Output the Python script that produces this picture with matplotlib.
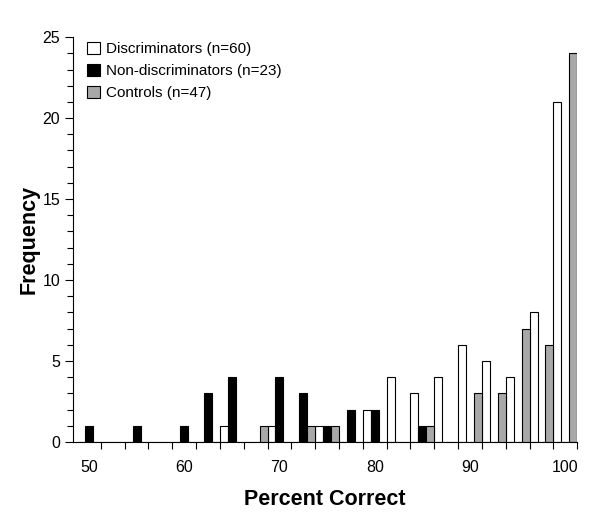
import numpy as np
import matplotlib.pyplot as plt
from matplotlib.ticker import FixedLocator, MultipleLocator

plt.rcParams['font.family'] = ['Liberation Sans', 'DejaVu Sans']

# percent-correct bins (2.5% wide)
bins = np.arange(50, 100.1, 2.5)
# frequency per bin
discriminators = [0, 0, 0, 0, 0, 0, 1, 0, 1, 0, 1, 0, 2, 4, 3, 4, 6, 5, 4, 8, 21]
non_discriminators = [1, 0, 1, 0, 1, 3, 4, 0, 4, 3, 1, 2, 2, 0, 1, 0, 0, 0, 0, 0, 0]
controls = [0, 0, 0, 0, 0, 0, 0, 1, 0, 1, 1, 0, 0, 0, 1, 0, 3, 3, 7, 6, 24]
labels = ['Discriminators (n=60)', 'Non-discriminators (n=23)', 'Controls (n=47)']
colors = ['white', 'black', '#a8a8a8']

fig = plt.figure(figsize=(6, 5.23), dpi=100)
ax = fig.add_axes([0.122, 0.155, 0.84, 0.774])

w = 2.5 / 3
for i, (vals, lab, col) in enumerate(zip([discriminators, non_discriminators, controls], labels, colors)):
    ax.bar(bins + (i - 1) * w, vals, width=w, color=col, edgecolor='black',
           linewidth=0.8, label=lab)

ax.set_xlim(48.75 - 0.4, 101.25)
ax.set_ylim(0, 25)

# labels at bin centres, tick marks at bin edges
ax.xaxis.set_major_locator(FixedLocator([50, 60, 70, 80, 90, 100]))
ax.xaxis.set_minor_locator(FixedLocator(np.arange(51.25, 101.3, 2.5)))
ax.tick_params(axis='x', which='major', length=0, pad=13, labelsize=11.5)
ax.tick_params(axis='x', which='minor', length=5, width=0.8, direction='out')
ax.yaxis.set_major_locator(MultipleLocator(5))
ax.yaxis.set_minor_locator(MultipleLocator(1))
ax.tick_params(axis='y', which='major', length=6, width=0.8, labelsize=11.5)
ax.tick_params(axis='y', which='minor', length=4, width=0.8)

for s in ['top', 'right']:
    ax.spines[s].set_visible(False)
for s in ['left', 'bottom']:
    ax.spines[s].set_linewidth(0.8)

ax.set_xlabel('Percent Correct', fontsize=15.5, fontweight='bold', labelpad=10)
ax.set_ylabel('Frequency', fontsize=15.5, fontweight='bold', labelpad=2)

ax.legend(loc='upper left', bbox_to_anchor=(0.01, 1.01), frameon=False, fontsize=11,
          handlelength=0.8, handleheight=0.8, handletextpad=0.4, labelspacing=0.5,
          borderaxespad=0.2)

fig.savefig('out.png', dpi=100)
